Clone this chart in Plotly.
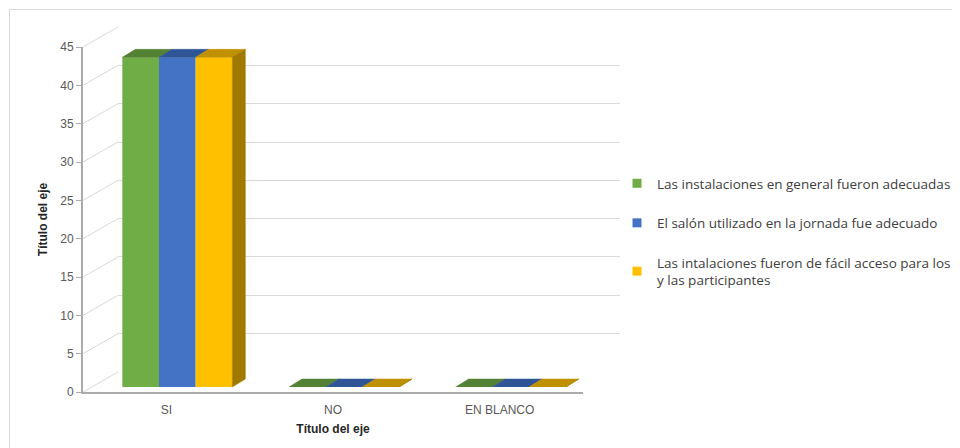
import plotly.graph_objects as go

# ---------------- data ----------------
categories = ["SI", "NO", "EN BLANCO"]
series_names = [
    "Las instalaciones en general fueron adecuadas",
    "El salón utilizado en la jornada fue adecuado",
    "Las intalaciones fueron de fácil acceso para los<br>y las participantes",
]
values_1 = [43, 0, 0]
values_2 = [43, 0, 0]
values_3 = [43, 0, 0]
y_ticks = [0, 5, 10, 15, 20, 25, 30, 35, 40, 45]

# ---------------- styles ----------------
front_colors = ["#70AD47", "#4472C4", "#FFC000"]
top_colors = ["#548235", "#2F5597", "#BF9000"]
side_color = "#A07A00"
grid_color = "#D9D9D9"
axis_color = "#ABABAB"
text_color = "#595959"
FONT = "Liberation Sans"

W, H = 960, 448
PAGE_OFF = 8  # page body margin in the screenshot


def pxx(p):
    return (p - PAGE_OFF) / W


def pxy(p):
    return 1 - (p - PAGE_OFF) / H


FX0, FX1 = 83, 583          # front x-axis (screen px)
FY0, FY1 = 392, 47          # front y for 0 and 45 (screen px)
DEPTH = (35, -20)           # back wall offset (px)
BAR_SHIFT = (11, -5)        # bar front face plane offset (px)
TOP_DEPTH = (13, -8)        # bar depth (px)
YMAX = 45
ux = (FX1 - FX0) / 3.0
uy = (FY0 - FY1) / YMAX
dx_u = TOP_DEPTH[0] / ux
dy_u = -TOP_DEPTH[1] / uy
bar_w = 0.22
n_series = 3

xs = list(range(len(categories)))
all_values = [values_1, values_2, values_3]

fig = go.Figure()

# back wall subplot (x, y): gridlines only
fig.add_trace(go.Scatter(x=[None], y=[None], xaxis="x", yaxis="y",
                         showlegend=False, hoverinfo="skip"))

# bars (x2, y2)
for k, (name, vals) in enumerate(zip(series_names, all_values)):
    off = -bar_w * n_series / 2 + k * bar_w
    fig.add_trace(go.Bar(
        x=xs, y=vals, width=bar_w, offset=off,
        marker=dict(color=front_colors[k], line=dict(width=0)),
        xaxis="x2", yaxis="y2", showlegend=False, name=name,
    ))
    # top faces
    tx, ty = [], []
    for xi, v in zip(xs, vals):
        xl = xi + off
        xr = xl + bar_w
        tx += [xl, xr, xr + dx_u, xl + dx_u, xl, None]
        ty += [v, v, v + dy_u, v + dy_u, v, None]
    fig.add_trace(go.Scatter(
        x=tx, y=ty, mode="lines", fill="toself", fillcolor=top_colors[k],
        line=dict(color=top_colors[k], width=0.5),
        xaxis="x2", yaxis="y2", showlegend=False, hoverinfo="skip",
    ))
    # side face for the right-most series
    if k == n_series - 1:
        sx, sy = [], []
        for xi, v in zip(xs, vals):
            xr = xi + off + bar_w
            sx += [xr, xr + dx_u, xr + dx_u, xr, xr, None]
            sy += [0, dy_u, v + dy_u, v, 0, None]
        fig.add_trace(go.Scatter(
            x=sx, y=sy, mode="lines", fill="toself", fillcolor=side_color,
            line=dict(color=side_color, width=0.5),
            xaxis="x2", yaxis="y2", showlegend=False, hoverinfo="skip",
        ))

# legend entries
for k, name in enumerate(series_names):
    fig.add_trace(go.Scatter(
        x=[None], y=[None], mode="markers", name=name, legendgroup=str(k),
        marker=dict(symbol="square", size=9, color=front_colors[k]),
        xaxis="x2", yaxis="y2",
    ))

# front axes subplot (x3, y3)
fig.add_trace(go.Scatter(x=[None], y=[None], xaxis="x3", yaxis="y3",
                         showlegend=False, hoverinfo="skip"))

# diagonal lines from front ticks to back wall
shapes = []
for v in y_ticks:
    y_front = FY0 - v * uy
    shapes.append(dict(
        type="line", xref="paper", yref="paper", layer="below",
        x0=pxx(FX0), y0=pxy(y_front),
        x1=pxx(FX0 + DEPTH[0]), y1=pxy(y_front + DEPTH[1]),
        line=dict(color=grid_color, width=1),
    ))
# chart border
shapes.append(dict(type="rect", xref="paper", yref="paper", layer="below",
                   x0=1.5 / W, y0=-0.1, x1=1.1, y1=1 - 1.5 / H,
                   line=dict(color="#D9D9D9", width=1)))

xr_ = [-0.5, 2.5]
common_hidden = dict(showgrid=False, zeroline=False, showline=False,
                     showticklabels=False, ticks="", range=xr_, fixedrange=True)

fig.update_layout(
    width=W, height=H,
    margin=dict(l=0, r=0, t=0, b=0, autoexpand=False),
    paper_bgcolor="white", plot_bgcolor="rgba(0,0,0,0)",
    font=dict(family=FONT, size=12, color=text_color),
    shapes=shapes,
    # back wall
    xaxis=dict(domain=[pxx(FX0 + DEPTH[0]), pxx(FX1 + DEPTH[0] + 2)], anchor="y",
               **common_hidden),
    yaxis=dict(domain=[pxy(FY0 + DEPTH[1]), pxy(FY1 + DEPTH[1])], anchor="x",
               range=[-0.02, YMAX + 0.02], tickvals=y_ticks, showgrid=True,
               gridcolor=grid_color, gridwidth=1, zeroline=False,
               showline=False, showticklabels=False, ticks="", fixedrange=True),
    # bars
    xaxis2=dict(domain=[pxx(FX0 + BAR_SHIFT[0]), pxx(FX1 + BAR_SHIFT[0])], anchor="y2",
                **common_hidden),
    yaxis2=dict(domain=[pxy(FY0 + BAR_SHIFT[1]), pxy(FY1 + BAR_SHIFT[1])], anchor="x2",
                range=[0, YMAX], showgrid=False, zeroline=False, showline=False,
                showticklabels=False, ticks="", fixedrange=True),
    # front axes
    xaxis3=dict(domain=[pxx(FX0), pxx(FX1)], anchor="y3", range=xr_,
                tickvals=xs, ticktext=categories, showgrid=False, zeroline=False,
                showline=True, linecolor=axis_color, linewidth=2, ticks="",
                ticklabelstandoff=6,
                tickfont=dict(family=FONT, size=12, color=text_color),
                title=dict(text="<b>Título del eje</b>", standoff=8,
                           font=dict(family=FONT, size=12, color="#262626")),
                fixedrange=True),
    yaxis3=dict(domain=[pxy(FY0), pxy(FY1)], anchor="x3", range=[0, YMAX],
                tickvals=y_ticks, showgrid=False, zeroline=False,
                showline=True, linecolor=axis_color, linewidth=2,
                ticks="outside", ticklen=5, tickcolor=axis_color, tickwidth=1,
                tickfont=dict(family=FONT, size=12, color=text_color),
                title=dict(text="<b>Título del eje</b>", standoff=10,
                           font=dict(family=FONT, size=12, color="#262626")),
                fixedrange=True),
    barmode="overlay",
    legend=dict(x=pxx(617), y=pxy(168), xanchor="left", yanchor="top",
                traceorder="grouped", tracegroupgap=19,
                font=dict(family="Open Sans", size=13.5, color="#404040"),
                bgcolor="rgba(0,0,0,0)", itemclick=False, itemdoubleclick=False),
    showlegend=True,
)

fig.write_html("out.html")
